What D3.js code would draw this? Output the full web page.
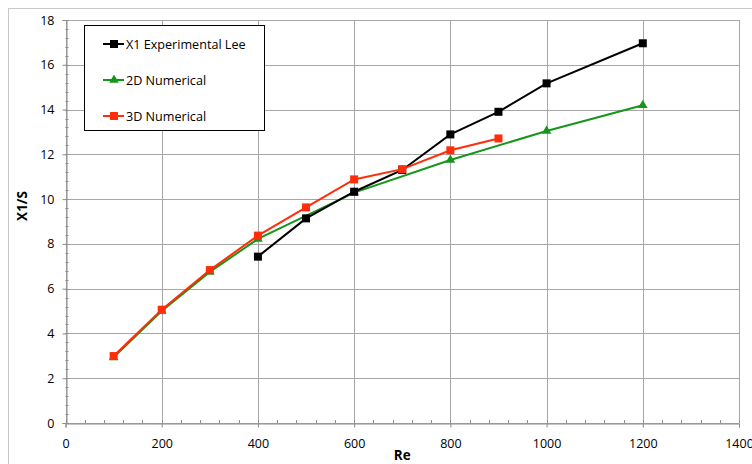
<!doctype html>
<html>
<head>
<script src="https://cdnjs.cloudflare.com/ajax/libs/d3/7.8.5/d3.min.js"></script>
<style>
  body { margin: 0; background: #fff; }
  text { font-family: "Open Sans", sans-serif; fill: #000; }
</style>
</head>
<body>
<svg id="chart" width="752" height="464"></svg>
<script>
// data
var reExp = [400, 500, 600, 700, 800, 900, 1000, 1200];
var x1Exp = [7.43, 9.14, 10.33, 11.3, 12.89, 13.9, 15.17, 16.96];

var re2d = [100, 200, 300, 400, 600, 800, 1000, 1200];
var x1_2d = [2.93, 5.0, 6.75, 8.22, 10.29, 11.75, 13.04, 14.19];

var re3d = [100, 200, 300, 400, 500, 600, 700, 800, 900];
var x1_3d = [2.99, 5.06, 6.83, 8.37, 9.63, 10.88, 11.34, 12.18, 12.71];

var xTicks = [0, 200, 400, 600, 800, 1000, 1200, 1400];
var yTicks = [0, 2, 4, 6, 8, 10, 12, 14, 16, 18];

var series = [
  {name: "X1 Experimental Lee", x: reExp, y: x1Exp, color: "#000000", marker: "square"},
  {name: "2D Numerical", x: re2d, y: x1_2d, color: "#15961a", marker: "triangle"},
  {name: "3D Numerical", x: re3d, y: x1_3d, color: "#ff2d0a", marker: "square"}
];

var svg = d3.select("#chart");

// outer chart frame
svg.append("rect")
  .attr("x", 8.5).attr("y", 8.5)
  .attr("width", 760).attr("height", 470)
  .attr("fill", "none").attr("stroke", "#c8c8c8");

var x = d3.scaleLinear().domain([0, 1400]).range([65.5, 739]);
var y = d3.scaleLinear().domain([0, 18]).range([423, 20]);

var grid = svg.append("g").attr("stroke", "#a6a6a6").attr("stroke-width", 1);
xTicks.forEach(function(t) {
  grid.append("line")
    .attr("x1", Math.round(x(t)) + 0.5).attr("x2", Math.round(x(t)) + 0.5)
    .attr("y1", y(18)).attr("y2", y(0));
});
yTicks.forEach(function(t) {
  grid.append("line")
    .attr("x1", x(0)).attr("x2", x(1400))
    .attr("y1", Math.round(y(t)) + 0.5).attr("y2", Math.round(y(t)) + 0.5);
});

// minor ticks, pointing into the plot
var minor = svg.append("g").attr("stroke", "#8c8c8c");
d3.range(0, 1400.1, 40).forEach(function(t) {
  var px = Math.round(x(t)) + 0.5;
  minor.append("line").attr("x1", px).attr("x2", px)
    .attr("y1", y(0)).attr("y2", y(0) - 3);
});
d3.range(0, 18.01, 0.4).forEach(function(t) {
  var py = Math.round(y(t)) + 0.5;
  minor.append("line").attr("x1", x(0)).attr("x2", x(0) + 3)
    .attr("y1", py).attr("y2", py);
});

// axes with outward major ticks
var xAxis = svg.append("g")
  .attr("transform", "translate(0," + (Math.round(y(0)) + 0.5) + ")")
  .call(d3.axisBottom(x).tickValues(xTicks).tickSize(4).tickPadding(12).tickFormat(d3.format("d")));
var yAxis = svg.append("g")
  .attr("transform", "translate(" + (Math.round(x(0)) + 0.5) + ",0)")
  .call(d3.axisLeft(y).tickValues(yTicks).tickSize(4).tickPadding(8).tickFormat(d3.format("d")));

[xAxis, yAxis].forEach(function(a) {
  a.select(".domain").attr("stroke", "#8c8c8c");
  a.selectAll(".tick line").attr("stroke", "#8c8c8c");
  a.selectAll(".tick text").style("font-family", "Open Sans, sans-serif").style("font-size", "12.5px").attr("fill", "#000");
});

// axis titles
svg.append("text")
  .attr("x", x(700)).attr("y", 460)
  .attr("text-anchor", "middle")
  .style("font-size", "13.5px").style("font-weight", "bold")
  .text("Re");
svg.append("text")
  .attr("transform", "translate(27,206) rotate(-90)")
  .attr("text-anchor", "middle")
  .style("font-size", "13.5px").style("font-weight", "bold")
  .text("X1/S");

function drawMarker(g, kind, cx, cy, color) {
  if (kind === "square") {
    g.append("rect")
      .attr("x", cx - 4).attr("y", cy - 4)
      .attr("width", 8).attr("height", 8)
      .attr("fill", color);
  } else {
    g.append("path")
      .attr("d", d3.symbol().type(d3.symbolTriangle).size(40)())
      .attr("transform", "translate(" + cx + "," + cy + ")")
      .attr("fill", color);
  }
}

var line = d3.line();
// draw 2D first, then black, then red on top
[series[1], series[0], series[2]].forEach(function(s) {
  var pts = s.x.map(function(v, i) { return [x(v), y(s.y[i])]; });
  var g = svg.append("g");
  g.append("path")
    .attr("d", line(pts))
    .attr("fill", "none")
    .attr("stroke", s.color)
    .attr("stroke-width", 2);
  pts.forEach(function(p) { drawMarker(g, s.marker, p[0], p[1], s.color); });
});

// legend
var lg = svg.append("g");
lg.append("rect")
  .attr("x", 84.5).attr("y", 25.5)
  .attr("width", 180).attr("height", 105)
  .attr("fill", "#fff").attr("stroke", "#000").attr("stroke-width", 1);
var legendY = [44, 80, 116];
series.forEach(function(s, i) {
  var ly = legendY[i];
  lg.append("line")
    .attr("x1", 103).attr("x2", 124)
    .attr("y1", ly).attr("y2", ly)
    .attr("stroke", s.color).attr("stroke-width", 2);
  drawMarker(lg, s.marker, 114, ly, s.color);
  lg.append("text")
    .attr("x", 126).attr("y", ly + 4.5)
    .style("font-size", "12.6px")
    .text(s.name);
});
</script>
</body>
</html>
